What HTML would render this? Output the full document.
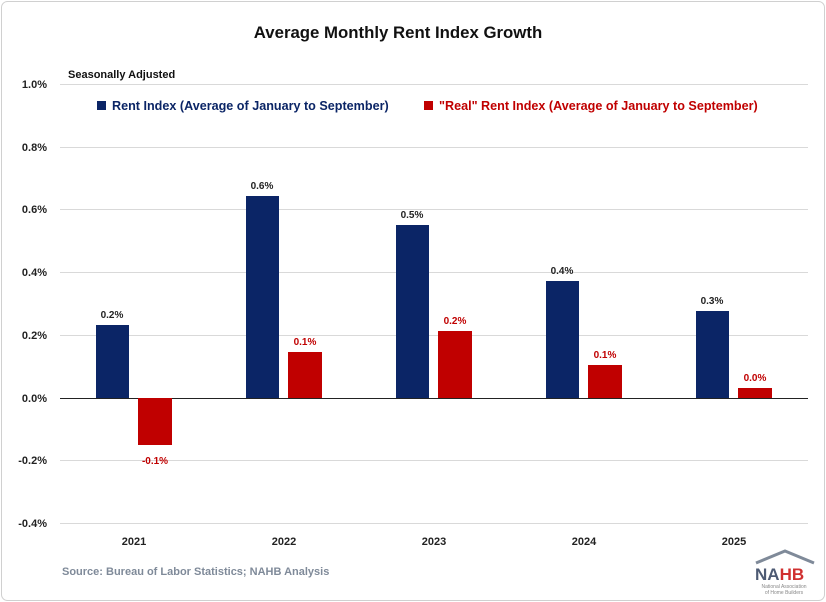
<!DOCTYPE html>
<html><head><meta charset="utf-8"><style>
body{margin:0;background:#fff;}
svg{display:block;font-family:"Liberation Sans",sans-serif;}
</style></head><body>
<svg width="826" height="602" viewBox="0 0 826 602" xmlns="http://www.w3.org/2000/svg">
<rect x="1.5" y="1.5" width="823" height="599" rx="6" fill="#fff" stroke="#d0d0d0"/>
<text x="398" y="38" text-anchor="middle" font-size="16.8" font-weight="bold" fill="#111">Average Monthly Rent Index Growth</text>
<text x="68" y="78" font-size="11" font-weight="bold" fill="#111">Seasonally Adjusted</text>
<g stroke="#d9d9d9" stroke-width="1">
<line x1="60" y1="84.5" x2="808" y2="84.5"/><line x1="60" y1="147.5" x2="808" y2="147.5"/>
<line x1="60" y1="209.5" x2="808" y2="209.5"/><line x1="60" y1="272.5" x2="808" y2="272.5"/>
<line x1="60" y1="335.5" x2="808" y2="335.5"/><line x1="60" y1="460.5" x2="808" y2="460.5"/>
<line x1="60" y1="523.5" x2="808" y2="523.5"/>
</g>
<line x1="60" y1="398.5" x2="808" y2="398.5" stroke="#222"/>
<g font-size="11" font-weight="bold" fill="#222" text-anchor="end">
<text x="47" y="88">1.0%</text><text x="47" y="151">0.8%</text><text x="47" y="213">0.6%</text>
<text x="47" y="276">0.4%</text><text x="47" y="339">0.2%</text><text x="47" y="402">0.0%</text>
<text x="47" y="464">-0.2%</text><text x="47" y="527">-0.4%</text>
</g>
<rect x="97" y="101" width="9" height="9" fill="#0b2566"/>
<text x="112" y="110" font-size="12.6" font-weight="bold" fill="#0b2566">Rent Index (Average of January to September)</text>
<rect x="424" y="101" width="9" height="9" fill="#c00000"/>
<text x="439" y="110" font-size="12.6" font-weight="bold" fill="#c00000">"Real" Rent Index (Average of January to September)</text>
<g fill="#0b2566">
<rect x="96" y="325" width="33" height="73"/><rect x="246" y="196" width="33" height="202"/>
<rect x="396" y="225" width="33" height="173"/><rect x="546" y="281" width="33" height="117"/>
<rect x="696" y="311" width="33" height="87"/>
</g>
<g fill="#c00000">
<rect x="138" y="398" width="34" height="47"/><rect x="288" y="352" width="34" height="46"/>
<rect x="438" y="331" width="34" height="67"/><rect x="588" y="365" width="34" height="33"/>
<rect x="738" y="388" width="34" height="10"/>
</g>
<g font-size="10" font-weight="bold" text-anchor="middle" fill="#222">
<text x="112" y="318">0.2%</text><text x="262" y="189">0.6%</text><text x="412" y="218">0.5%</text>
<text x="562" y="274">0.4%</text><text x="712" y="304">0.3%</text>
</g>
<g font-size="10" font-weight="bold" text-anchor="middle" fill="#c00000">
<text x="155" y="464">-0.1%</text><text x="305" y="345">0.1%</text><text x="455" y="324">0.2%</text>
<text x="605" y="358">0.1%</text><text x="755" y="381">0.0%</text>
</g>
<g font-size="11" font-weight="bold" text-anchor="middle" fill="#222">
<text x="134" y="545">2021</text><text x="284" y="545">2022</text><text x="434" y="545">2023</text>
<text x="584" y="545">2024</text><text x="734" y="545">2025</text>
</g>
<text x="62" y="575" font-size="11" font-weight="bold" fill="#7f8a99">Source: Bureau of Labor Statistics; NAHB Analysis</text>
<polyline points="756,563 785,551 814,563" fill="none" stroke="#7f8a99" stroke-width="3"/>
<text x="755" y="580" font-size="17" font-weight="bold" fill="#4d5a73">NA<tspan fill="#d03030">HB</tspan></text>
<text x="784" y="588" font-size="5" text-anchor="middle" fill="#888">National Association</text>
<text x="784" y="594" font-size="5" text-anchor="middle" fill="#888">of Home Builders</text>
</svg>
</body></html>
